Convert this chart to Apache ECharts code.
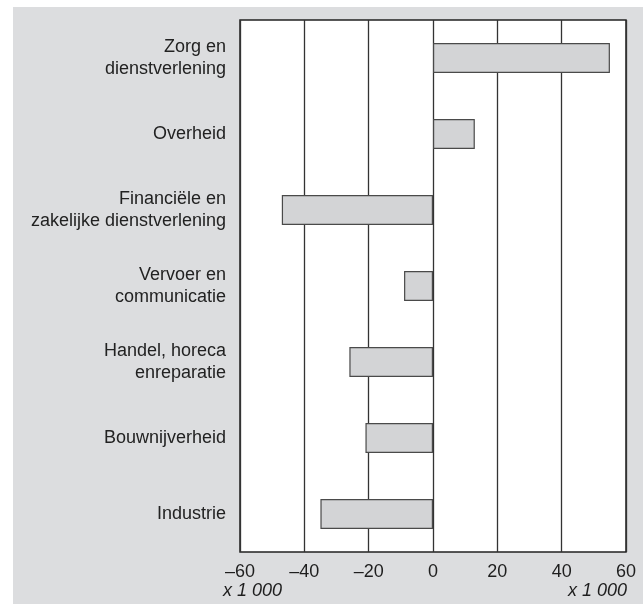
<!DOCTYPE html>
<html>
<head>
<meta charset="utf-8">
<script src="https://cdn.jsdelivr.net/npm/echarts@6/dist/echarts.min.js"></script>
<style>
html,body{margin:0;padding:0;background:#fff;width:643px;height:604px;overflow:hidden;}
#c{position:absolute;left:13px;top:7px;width:630px;height:597px;background:#dcdddf;}
</style>
</head>
<body>
<div id="c"></div>
<script>
const categories = ['Zorg en\ndienstverlening', 'Overheid', 'Financiële en\nzakelijke dienstverlening', 'Vervoer en\ncommunicatie', 'Handel, horeca\nenreparatie', 'Bouwnijverheid', 'Industrie'];
const values = [55, 13, -47, -9, -26, -21, -35];
const tickLabels = {'-60':'–60','-40':'–40','-20':'–20','0':'0','20':'20','40':'40','60':'60'};
const unitLabel = 'x 1 000';

const chart = echarts.init(document.getElementById('c'), null, {renderer:'canvas'});
const font = 'Liberation Sans, Arial, sans-serif';
chart.setOption({
  animation:false,
  grid:{left:227, right:17, top:13, bottom:52, show:true, backgroundColor:'#fff', borderColor:'#222', borderWidth:1.5},
  xAxis:{type:'value', min:-60, max:60, interval:20,
    axisLine:{show:false}, axisTick:{show:false},
    splitLine:{show:true, lineStyle:{color:'#333', width:1.3}},
    axisLabel:{fontFamily:font, fontSize:18, color:'#1e1e1e', margin:11,
      formatter:v=>tickLabels[String(v)]}},
  yAxis:{type:'category', inverse:true, data:categories,
    axisLine:{show:false}, axisTick:{show:false}, splitLine:{show:false},
    axisLabel:{fontFamily:font, fontSize:18, color:'#222', margin:14, lineHeight:22, align:'right'}},
  series:[{type:'bar', data:values, barWidth:30,
    itemStyle:{color:'#d3d4d6', borderColor:'#4a4a4a', borderWidth:1.2}}],
  graphic:[
    {type:'text', left:210, top:575, style:{text:unitLabel, font:'italic 18px '+font, fill:'#1e1e1e'}},
    {type:'text', right:16, top:575, style:{text:unitLabel, font:'italic 18px '+font, fill:'#1e1e1e'}}
  ]
});
</script>
</body>
</html>
